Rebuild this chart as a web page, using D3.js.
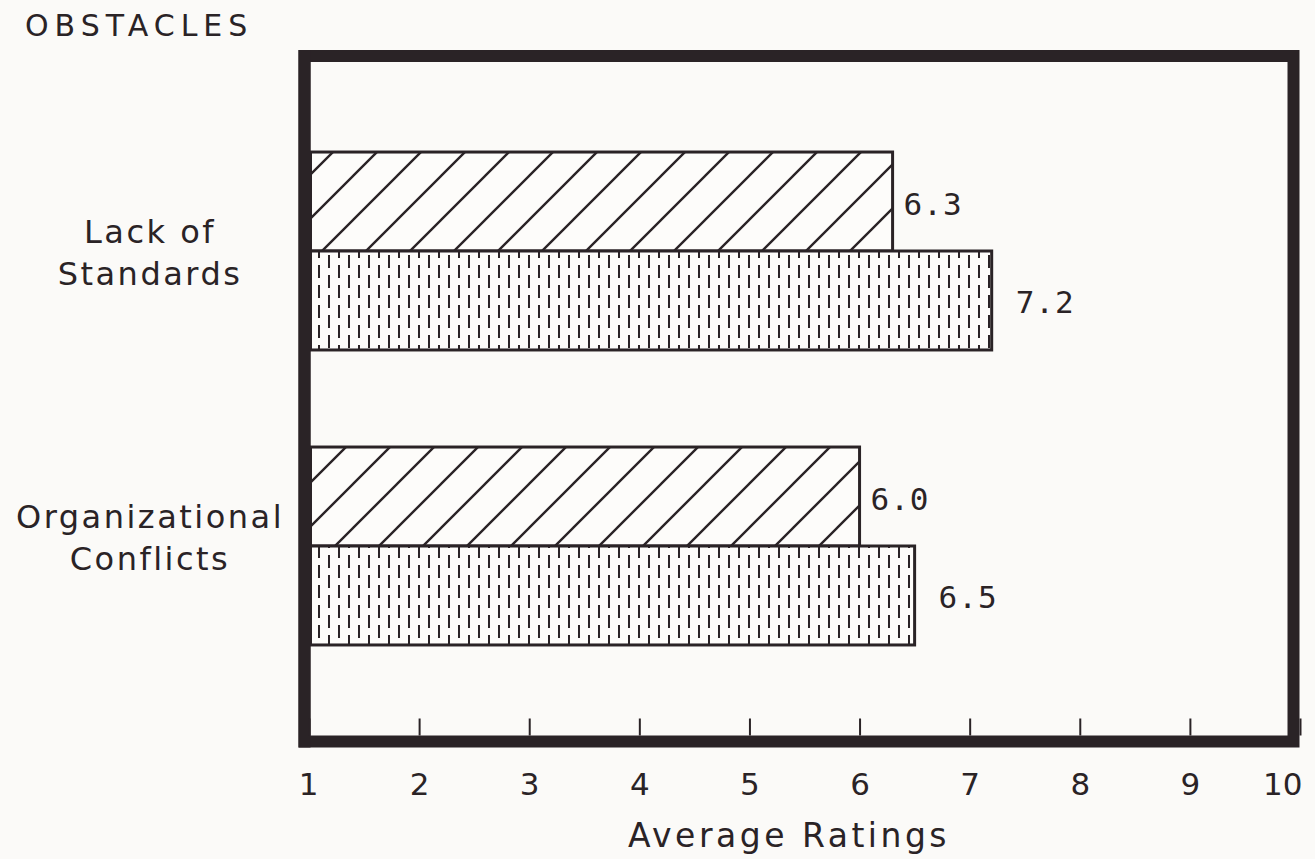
<!DOCTYPE html>
<html>
<head>
<meta charset="utf-8">
<script src="https://cdn.jsdelivr.net/npm/d3@7"></script>
<style>
  html, body { margin: 0; padding: 0; background: #fbfaf8; }
  svg { display: block; }
  text { fill: #2a2326; }
</style>
</head>
<body>
<svg id="chart" width="1315" height="859"></svg>
<script>
// ---- data ----
const categories = ["Lack of Standards", "Organizational Conflicts"];
const categoryLines = [["Lack of", "Standards"], ["Organizational", "Conflicts"]];
const seriesNames = ["hatched", "dotted"];
const hatchedValues = [6.3, 6.0];
const dottedValues = [7.2, 6.5];
const tickValues = [1, 2, 3, 4, 5, 6, 7, 8, 9, 10];
const tickLabels = ["1", "2", "3", "4", "5", "6", "7", "8", "9", "10"];
const titleText = "OBSTACLES";
const xTitle = "Average Ratings";

// ---- setup ----
const ink = "#2a2326";
const svg = d3.select("#chart");
const defs = svg.append("defs");

// hatch pattern (diagonal lines)
const hp = defs.append("pattern").attr("id", "hatch")
  .attr("patternUnits", "userSpaceOnUse").attr("width", 44).attr("height", 44)
  .attr("x", 309).attr("y", 0);
hp.append("rect").attr("width", 44).attr("height", 44).attr("fill", "#fdfcfa");
hp.append("path").attr("d", "M0,44 L44,0 M-11,11 L11,-11 M33,55 L55,33")
  .attr("stroke", ink).attr("stroke-width", 2.4).attr("fill", "none");

// dotted pattern (vertical dashes, staggered)
const dp = defs.append("pattern").attr("id", "dash")
  .attr("patternUnits", "userSpaceOnUse").attr("width", 20).attr("height", 20)
  .attr("x", 314).attr("y", 4);
dp.append("rect").attr("width", 20).attr("height", 20).attr("fill", "#fdfcfa");
dp.append("path").attr("d", "M5,1 L5,14 M15,11 L15,20 M15,0 L15,4")
  .attr("stroke", ink).attr("stroke-width", 2).attr("fill", "none");

// scales
const x = d3.scaleLinear().domain([1, 10]).range([309, 1300]);
const y = d3.scaleBand().domain(categories).range([103.5, 693.5])
  .paddingInner(0.329).paddingOuter(0.1645);
const ySub = d3.scaleBand().domain(seriesNames).range([0, y.bandwidth()]);

// frame
svg.append("rect")
  .attr("x", 304.5).attr("y", 56).attr("width", 989).attr("height", 685.5)
  .attr("fill", "none").attr("stroke", ink).attr("stroke-width", 12);

// bars
const rows = categories.map((c, i) => ({
  cat: c,
  vals: [
    { s: "hatched", v: hatchedValues[i], fill: "url(#hatch)", gap: 11 },
    { s: "dotted", v: dottedValues[i], fill: "url(#dash)", gap: 24 }
  ]
}));

const g = svg.append("g");
rows.forEach(r => {
  r.vals.forEach(d => {
    const y0 = y(r.cat) + ySub(d.s);
    g.append("rect")
      .attr("x", x(1) + 1.5)
      .attr("y", y0)
      .attr("width", x(d.v) - x(1) - 1.5)
      .attr("height", ySub.bandwidth())
      .attr("fill", d.fill)
      .attr("stroke", ink).attr("stroke-width", 3);
    g.append("text")
      .attr("x", x(d.v) + d.gap)
      .attr("y", y0 + ySub.bandwidth() / 2 + 13)
      .attr("font-family", "'DejaVu Sans Mono', monospace")
      .attr("font-size", 31)
      .attr("letter-spacing", 1)
      .text(d.v.toFixed(1));
  });
});

// redraw left frame edge over bar starts
svg.append("line").attr("x1", 304.5).attr("x2", 304.5).attr("y1", 50).attr("y2", 747.5)
  .attr("stroke", ink).attr("stroke-width", 12);

// x axis (ticks inward)
const axis = d3.axisBottom(x).tickValues(tickValues)
  .tickFormat((d, i) => tickLabels[i]).tickSize(-17).tickPadding(37);
const ax = svg.append("g").attr("transform", "translate(0,735.5)").call(axis);
ax.select(".domain").remove();
ax.selectAll(".tick line").attr("stroke", ink).attr("stroke-width", 2);
ax.selectAll(".tick text")
  .attr("font-family", "'DejaVu Sans', sans-serif")
  .attr("font-size", 31).attr("fill", ink);
ax.selectAll(".tick text").filter(d => d === 10)
  .attr("text-anchor", "end").attr("dx", 2);
ax.selectAll(".tick text").filter(d => d === 1).attr("dx", -1);

// category labels
categoryLines.forEach((lines, i) => {
  const baseY = i === 0 ? [243, 285] : [528, 570];
  lines.forEach((ln, j) => {
    svg.append("text")
      .attr("x", 150).attr("y", baseY[j])
      .attr("text-anchor", "middle")
      .attr("font-family", "'DejaVu Sans', sans-serif")
      .attr("font-size", 32).attr("letter-spacing", 2.5)
      .text(ln);
  });
});

// title
svg.append("text").attr("x", 25).attr("y", 36)
  .attr("font-family", "'DejaVu Sans', sans-serif")
  .attr("font-size", 30).attr("letter-spacing", 6)
  .text(titleText);

// x title
svg.append("text").attr("x", 789).attr("y", 847)
  .attr("text-anchor", "middle")
  .attr("font-family", "'DejaVu Sans', sans-serif")
  .attr("font-size", 33).attr("letter-spacing", 3.5)
  .text(xTitle);
</script>
</body>
</html>
